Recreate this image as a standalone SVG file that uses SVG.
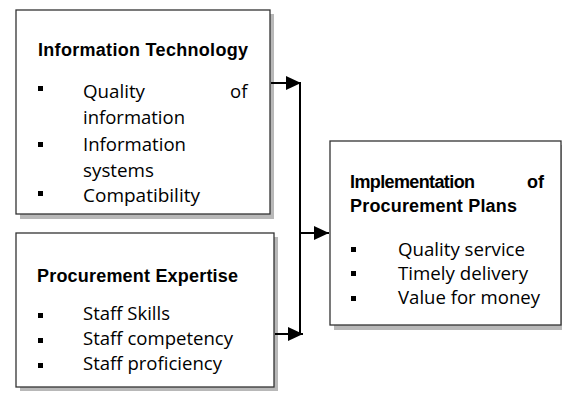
<svg xmlns="http://www.w3.org/2000/svg" width="562" height="398" viewBox="0 0 562 398">
<style>
.shadow{fill:#b8b8b8;}
.box{fill:#ffffff;stroke:#333333;stroke-width:1.3;}
.t{font-family:"Open Sans","Liberation Sans",sans-serif;font-size:18.5px;fill:#000;}
.b{font-family:"Liberation Sans","Open Sans",sans-serif;font-weight:bold;font-size:18px;}
.bul{fill:#000;}
.conn{fill:none;stroke:#000;stroke-width:2;}
</style>
<defs>
<marker id="ah" markerUnits="userSpaceOnUse" markerWidth="16" markerHeight="14" refX="15" refY="7" orient="auto">
<path d="M0,0 L15,7 L0,14 z" fill="#000"/>
</marker>
</defs>
<g id="node-it">
<rect class="shadow" x="20" y="14" width="254" height="205"/>
<rect class="box" x="16" y="10" width="254" height="204"/>
<text class="t b" x="38" y="56" textLength="210" lengthAdjust="spacing">Information Technology</text>
<rect class="bul" x="38" y="86" width="5" height="5"/>
<text class="t" x="83" y="98" textLength="62" lengthAdjust="spacingAndGlyphs">Quality</text>
<text class="t" x="230" y="98">of</text>
<text class="t" x="83" y="124" textLength="102" lengthAdjust="spacingAndGlyphs">information</text>
<rect class="bul" x="38" y="142" width="5" height="5"/>
<text class="t" x="83" y="151" textLength="103" lengthAdjust="spacingAndGlyphs">Information</text>
<text class="t" x="83" y="177" textLength="71" lengthAdjust="spacingAndGlyphs">systems</text>
<rect class="bul" x="38" y="191" width="5" height="5"/>
<text class="t" x="83" y="202" textLength="117" lengthAdjust="spacingAndGlyphs">Compatibility</text>
</g>
<g id="node-pe">
<rect class="shadow" x="20" y="237" width="258" height="154"/>
<rect class="box" x="16" y="233" width="258" height="154"/>
<text class="t b" x="37" y="282" textLength="201" lengthAdjust="spacing">Procurement Expertise</text>
<rect class="bul" x="38" y="313" width="5" height="5"/>
<text class="t" x="83" y="320" textLength="87" lengthAdjust="spacingAndGlyphs">Staff Skills</text>
<rect class="bul" x="38" y="338" width="5" height="5"/>
<text class="t" x="83" y="345" textLength="150" lengthAdjust="spacingAndGlyphs">Staff competency</text>
<rect class="bul" x="38" y="363" width="5" height="5"/>
<text class="t" x="83" y="370" textLength="139" lengthAdjust="spacingAndGlyphs">Staff proficiency</text>
</g>
<g id="node-ipp">
<rect class="shadow" x="334" y="145" width="232" height="185"/>
<rect class="box" x="330" y="141" width="231" height="184"/>
<text class="t b" x="350" y="188" textLength="125" lengthAdjust="spacing">Implementation</text>
<text class="t b" x="527" y="188">of</text>
<text class="t b" x="350" y="212" textLength="167" lengthAdjust="spacing">Procurement Plans</text>
<rect class="bul" x="351" y="247" width="5" height="5"/>
<text class="t" x="398" y="256" textLength="127" lengthAdjust="spacingAndGlyphs">Quality service</text>
<rect class="bul" x="351" y="271" width="5" height="5"/>
<text class="t" x="398" y="280" textLength="130" lengthAdjust="spacingAndGlyphs">Timely delivery</text>
<rect class="bul" x="351" y="296" width="5" height="5"/>
<text class="t" x="398" y="304" textLength="142" lengthAdjust="spacingAndGlyphs">Value for money</text>
</g>
<g id="connectors">
<line class="conn" x1="271" y1="83" x2="301" y2="83" marker-end="url(#ah)"/>
<line class="conn" x1="275" y1="334" x2="303" y2="334" marker-end="url(#ah)"/>
<line class="conn" x1="300" y1="82" x2="300" y2="335"/>
<line class="conn" x1="300" y1="233" x2="329" y2="233" marker-end="url(#ah)"/>
</g>
</svg>
